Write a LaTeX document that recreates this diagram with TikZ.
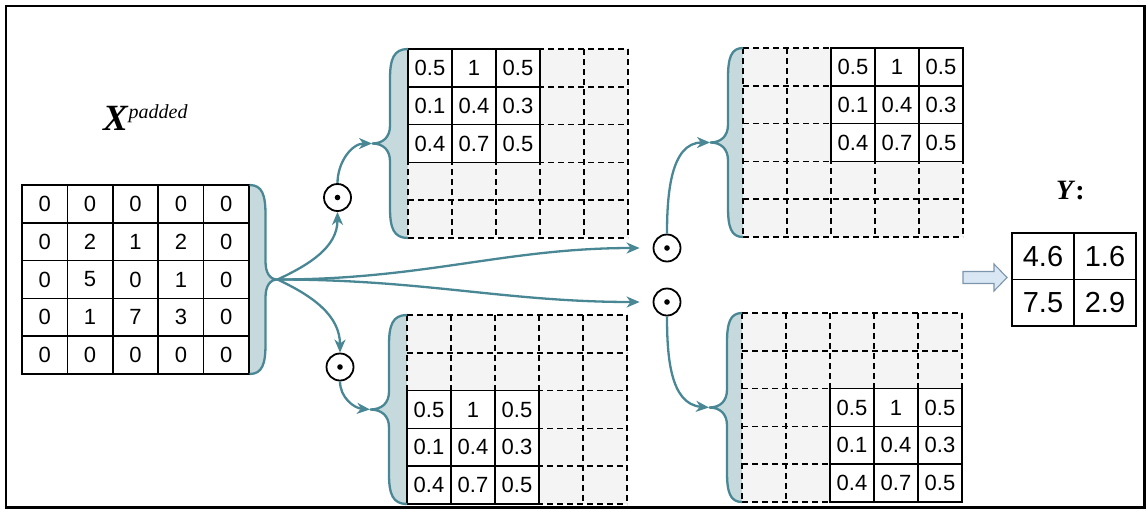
\documentclass[tikz,border=0pt]{standalone}
\usepackage{fontspec}
\setmainfont{Liberation Sans}
\newfontfamily\lserif{Liberation Serif}
\usetikzlibrary{arrows.meta}
\definecolor{teal1}{HTML}{4A8795}
\definecolor{bracebg}{HTML}{C6DADE}
\definecolor{cellgray}{HTML}{F4F4F4}
\definecolor{arrowfill}{HTML}{D9E6F3}
\definecolor{arrowline}{HTML}{7D95AD}

% brace path: xe, ytop, ybot, s, body, tip
\newcommand{\bracepath}[6]{(#1,#2) .. controls ({#1+#4*0.8*#5},#2) and ({#1+#4*#5},{#2+10}) .. ({#1+#4*#5},{#2+30})
  -- ({#1+#4*#5},{(#2+#3)/2-18})
  .. controls ({#1+#4*#5},{(#2+#3)/2-6}) and ({#1+#4*(#5+0.4*(#6-#5))},{(#2+#3)/2}) .. ({#1+#4*#6},{(#2+#3)/2})
  .. controls ({#1+#4*(#5+0.4*(#6-#5))},{(#2+#3)/2}) and ({#1+#4*#5},{(#2+#3)/2+6}) .. ({#1+#4*#5},{(#2+#3)/2+18})
  -- ({#1+#4*#5},{#3-30})
  .. controls ({#1+#4*#5},{#3-10}) and ({#1+#4*0.8*#5},#3) .. (#1,#3)}

\newcommand{\kgrid}[5]{% name, x0, y0, kernel row, kernel col
  \foreach \r in {0,...,4}{\foreach \c in {0,...,4}{
    \node[gcell] (#1-\r-\c) at ({#2+(\c+0.5)*44},{#3+(\r+0.5)*37.8}) {};}}
  \foreach \i in {0,...,5}{
    \draw[dline] ({#2+\i*44},#3) -- ({#2+\i*44},{#3+5*37.8});
    \draw[dline] (#2,{#3+\i*37.8}) -- ({#2+5*44},{#3+\i*37.8});}
  \foreach \r/\c/\v in {0/0/0.5,0/1/1,0/2/0.5,1/0/0.1,1/1/0.4,1/2/0.3,2/0/0.4,2/1/0.7,2/2/0.5}{
    \node[kcell] (#1-k\r\c) at ({#2+(\c+#5+0.5)*44},{#3+(\r+#4+0.5)*37.8}) {\v};}
}

\begin{document}
\begin{tikzpicture}[x=1pt,y=-1pt,
  xcell/.style={draw=black,line width=1.7pt,fill=white,minimum width=45.4pt,minimum height=37.8pt,inner sep=0pt,outer sep=0pt,font=\fontsize{22}{22}\selectfont},
  gcell/.style={fill=cellgray,minimum width=44pt,minimum height=37.8pt,inner sep=0pt,outer sep=0pt},
  kcell/.style={draw=black,line width=1.7pt,fill=white,minimum width=44pt,minimum height=37.8pt,inner sep=0pt,outer sep=0pt,font=\fontsize{22}{22}\selectfont},
  dline/.style={draw=black,line width=1.6pt,dash pattern=on 6pt off 4pt},
  bracefill/.style={fill=bracebg},
  braceline/.style={draw=teal1,line width=2.3pt},
  conn/.style={draw=teal1,line width=2.3pt,-{Stealth[length=13pt,width=11pt,inset=4pt]}},
  odot/.style={circle,draw=black,line width=1.8pt,minimum size=27pt,inner sep=0pt},
  ycell/.style={draw=black,line width=1.8pt,minimum width=62pt,minimum height=46.5pt,inner sep=0pt,outer sep=0pt,font=\fontsize{29}{29}\selectfont},
]
\useasboundingbox (0,0) rectangle (1147,509);
\draw[line width=2.4pt] (6,6) rectangle (1144.5,507.5);

% brace fills
\fill[bracefill] \bracepath{249.5}{185}{374}{1}{16}{28} -- cycle;
\fill[bracefill] \bracepath{408}{49}{238}{-1}{18}{36} -- cycle;
\fill[bracefill] \bracepath{743}{48}{237}{-1}{15}{33} -- cycle;
\fill[bracefill] \bracepath{407}{315}{504}{-1}{18}{37} -- cycle;
\fill[bracefill] \bracepath{742}{313}{502}{-1}{15}{33} -- cycle;

% label X padded
\node[anchor=base west,inner sep=0pt] (xlab) at (103,130)
  {\lserif\fontsize{37}{37}\selectfont\textbf{\textit{X}}\raisebox{12pt}{\fontsize{20}{20}\selectfont\textit{padded}}};

% X matrix
\foreach \r/\row in {0/{0,0,0,0,0},1/{0,2,1,2,0},2/{0,5,0,1,0},3/{0,1,7,3,0},4/{0,0,0,0,0}}{
  \foreach \v [count=\c from 0] in \row {
    \node[xcell] (x-\r-\c) at ({22+(\c+0.5)*45.4},{185+(\r+0.5)*37.8}) {\v};}}

% kernel grids
\kgrid{ga}{408}{49}{0}{0}
\kgrid{gb}{743}{48}{0}{2}
\kgrid{gc}{407}{315}{2}{0}
\kgrid{gd}{742}{313}{2}{2}

% brace outlines
\draw[braceline] \bracepath{249.5}{185}{374}{1}{16}{28};
\draw[braceline] \bracepath{408}{49}{238}{-1}{18}{36};
\draw[braceline] \bracepath{743}{48}{237}{-1}{15}{33};
\draw[braceline] \bracepath{407}{315}{504}{-1}{18}{37};
\draw[braceline] \bracepath{742}{313}{502}{-1}{15}{33};

\coordinate (tX) at (277.5,279.5);
\coordinate (t1) at (372,143.5);
\coordinate (t2) at (710,142.5);
\coordinate (t3) at (370,409.5);
\coordinate (t4) at (709,407.5);

% odot nodes
\node[odot] (o1) at (337.5,197.5) {};
\node[odot] (o2) at (340,367) {};
\node[odot] (o3) at (667,248) {};
\node[odot] (o4) at (667,302) {};
\foreach \o in {o1,o2,o3,o4}{\fill[black] (\o.center) circle (2.8);}

% connectors
\draw[conn] (tX) to[out=25,in=-90] (o1.south);
\draw[conn] (o1.north) to[out=90,in=180] (t1);
\draw[conn] (tX) to[out=-25,in=90] (o2.north);
\draw[conn] (o2.south) to[out=-90,in=175] (t3);
\draw[conn,shorten >=13pt] (tX) to[out=0,in=180] (o3.west);
\draw[conn,shorten >=13pt] (tX) to[out=0,in=180] (o4.west);
\draw[conn] (o3.north) to[out=90,in=180] (t2);
\draw[conn] (o4.south) to[out=-90,in=175] (t4);

% block arrow
\draw[fill=arrowfill,draw=arrowline,line width=1.1pt] (963,271.5) -- (994,271.5) -- (994,264) -- (1007,277.5) -- (994,291) -- (994,283.5) -- (963,283.5) -- cycle;

% Y
\node[anchor=base west,inner sep=0pt] (ylab) at (1056,199)
  {\lserif\fontsize{28}{28}\selectfont\textbf{\textit{Y}}\textbf{:}};
\node[ycell] (y-0-0) at (1043,256.25) {4.6};
\node[ycell] (y-0-1) at (1105,256.25) {1.6};
\node[ycell] (y-1-0) at (1043,302.75) {7.5};
\node[ycell] (y-1-1) at (1105,302.75) {2.9};
\end{tikzpicture}
\end{document}
